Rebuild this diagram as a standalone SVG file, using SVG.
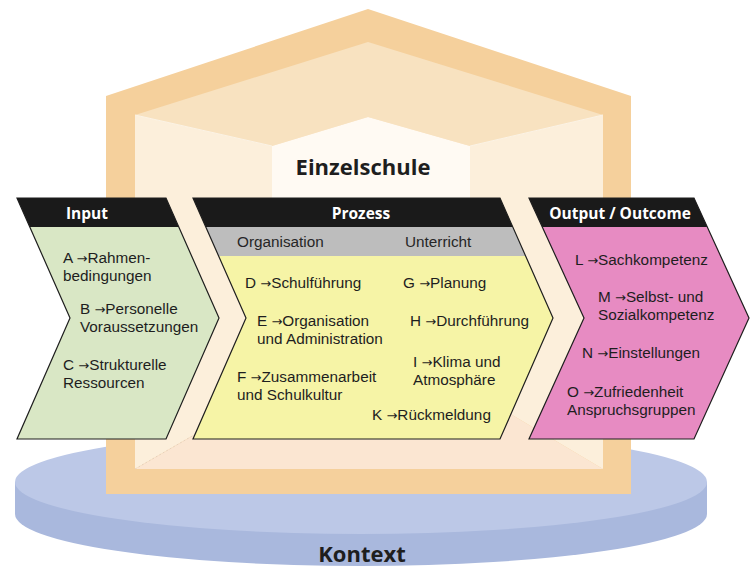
<svg xmlns="http://www.w3.org/2000/svg" width="756" height="569" viewBox="0 0 756 569">
<style>
.hdr{font-family:"Open Sans","Liberation Sans",sans-serif;font-weight:700;font-size:15.5px;fill:#ffffff;text-anchor:middle}
.t{font-family:"Liberation Sans","DejaVu Sans",sans-serif;font-size:15.3px;fill:#1e1e1e}
.a{font-family:"DejaVu Sans",sans-serif;font-size:13px}
.sub{font-family:"Liberation Sans","DejaVu Sans",sans-serif;font-size:15.3px;fill:#262626}
.title{font-family:"Open Sans","Liberation Sans",sans-serif;font-weight:700;font-size:22px;fill:#1e1e1e;text-anchor:middle}
.edge{fill:none;stroke:#1e1e1e;stroke-width:1.2;stroke-linejoin:miter}
.band{fill:#1a1a1a}
</style>
<defs>
<clipPath id="cIn"><polygon points="17,198 166,198 219,318 166,439 17,439 70,318"/></clipPath>
<clipPath id="cPr"><polygon points="193,198 500,198 553,318 500,439 193,439 246,318"/></clipPath>
<clipPath id="cOut"><polygon points="529,198 694,198 749,318 694,439 529,439 584,318"/></clipPath>
</defs>
<rect x="0" y="0" width="756" height="569" fill="#ffffff"/>

<g id="kontext">
<ellipse cx="361" cy="514" rx="346" ry="52" fill="#a9b8dd"/>
<rect x="15" y="482" width="692" height="32" fill="#a9b8dd"/>
<ellipse cx="361" cy="482" rx="346" ry="52" fill="#bcc8e7"/>
<text class="title" x="362" y="562">Kontext</text>
</g>

<g id="einzelschule">
<polygon points="106,96 368,9 631,96 631,494 106,494" fill="#f5d09c"/>
<polygon points="135,115 368,42 603,115 470,146 368,117 272,146" fill="#f8e2c0"/>
<polygon points="135,115 272,146 272,390 135,469" fill="#fcefdb"/>
<polygon points="603,115 470,146 470,390 603,469" fill="#fcefdb"/>
<polygon points="135,469 272,390 470,390 603,469" fill="#fbe6d2"/>
<polygon points="272,146 368,117 470,146 470,390 272,390" fill="#fffaf3"/>
<polyline points="135,115 272,146" fill="none" stroke="#fbf3e6" stroke-width="1"/>
<polyline points="603,115 470,146" fill="none" stroke="#fbf3e6" stroke-width="1"/>
<polyline points="135,469 272,390" fill="none" stroke="#e2cdb8" stroke-width="0.8" stroke-dasharray="2,2"/>
<text class="title" x="363" y="175">Einzelschule</text>
</g>

<g id="input">
<polygon points="17,198 166,198 219,318 166,439 17,439 70,318" fill="#d9e7c5"/>
<rect class="band" x="0" y="198" width="240" height="29" clip-path="url(#cIn)"/>
<polygon class="edge" points="17,198 166,198 219,318 166,439 17,439 70,318"/>
<text class="hdr" x="87" y="219">Input</text>
<text class="t" x="63" y="263">A <tspan class="a">→</tspan>Rahmen-</text>
<text class="t" x="63" y="281">bedingungen</text>
<text class="t" x="80" y="314">B <tspan class="a">→</tspan>Personelle</text>
<text class="t" x="80" y="332">Voraussetzungen</text>
<text class="t" x="63" y="370">C <tspan class="a">→</tspan>Strukturelle</text>
<text class="t" x="63" y="388">Ressourcen</text>
</g>

<g id="prozess">
<polygon points="193,198 500,198 553,318 500,439 193,439 246,318" fill="#f6f4a6"/>
<rect class="band" x="180" y="198" width="400" height="29" clip-path="url(#cPr)"/>
<rect x="180" y="227" width="400" height="29" fill="#bdbdbd" clip-path="url(#cPr)"/>
<polygon class="edge" points="193,198 500,198 553,318 500,439 193,439 246,318"/>
<text class="hdr" x="361" y="219">Prozess</text>
<text class="sub" x="237" y="247">Organisation</text>
<text class="sub" x="405" y="247">Unterricht</text>
<text class="t" x="245" y="288">D <tspan class="a">→</tspan>Schulführung</text>
<text class="t" x="257" y="326">E <tspan class="a">→</tspan>Organisation</text>
<text class="t" x="257" y="344">und Administration</text>
<text class="t" x="237" y="382">F <tspan class="a">→</tspan>Zusammenarbeit</text>
<text class="t" x="237" y="400">und Schulkultur</text>
<text class="t" x="403" y="288">G <tspan class="a">→</tspan>Planung</text>
<text class="t" x="410" y="326">H <tspan class="a">→</tspan>Durchführung</text>
<text class="t" x="413" y="367">I <tspan class="a">→</tspan>Klima und</text>
<text class="t" x="413" y="385">Atmosphäre</text>
<text class="t" x="372" y="420">K <tspan class="a">→</tspan>Rückmeldung</text>
</g>

<g id="output">
<polygon points="529,198 694,198 749,318 694,439 529,439 584,318" fill="#e78bc2"/>
<rect class="band" x="520" y="198" width="236" height="29" clip-path="url(#cOut)"/>
<polygon class="edge" points="529,198 694,198 749,318 694,439 529,439 584,318"/>
<text class="hdr" x="620" y="219">Output / Outcome</text>
<text class="t" x="575" y="265">L <tspan class="a">→</tspan>Sachkompetenz</text>
<text class="t" x="598" y="302">M <tspan class="a">→</tspan>Selbst- und</text>
<text class="t" x="598" y="320">Sozialkompetenz</text>
<text class="t" x="582" y="358">N <tspan class="a">→</tspan>Einstellungen</text>
<text class="t" x="567" y="397">O <tspan class="a">→</tspan>Zufriedenheit</text>
<text class="t" x="567" y="415">Anspruchsgruppen</text>
</g>
</svg>
